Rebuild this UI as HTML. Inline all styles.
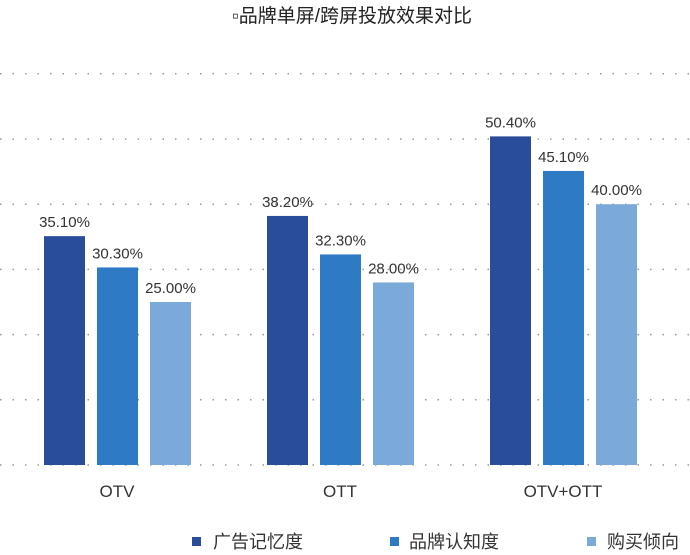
<!DOCTYPE html>
<html><head><meta charset="utf-8"><style>
body{margin:0;background:#fff;}
svg text{font-family:"Liberation Sans","Noto Sans CJK SC",sans-serif;}
</style></head><body>
<svg width="690" height="550" id="c">
<text x="352" y="22" text-anchor="middle" font-size="19" fill="#222">▫品牌单屏/跨屏投放效果对比</text>
<g id="grid"></g><g id="bars"></g><g id="labels"></g>
<g>
<rect x="192" y="537" width="9" height="9" fill="#2a4d9b"/>
<text x="213" y="548" font-size="18" fill="#333">广告记忆度</text>
<rect x="390" y="537" width="9" height="9" fill="#2f7ac4"/>
<text x="409" y="548" font-size="18" fill="#333">品牌认知度</text>
<rect x="587" y="537" width="9" height="9" fill="#7ba9d9"/>
<text x="607" y="548" font-size="18" fill="#333">购买倾向</text>
</g>
</svg>
<script>
const categories=["OTV","OTT","OTV+OTT"];
const recall=[35.1,38.2,50.4];
const awareness=[30.3,32.3,45.1];
const purchase=[25.0,28.0,40.0];
const gridTicks=[0,10,20,30,40,50,60];
const ns="http://www.w3.org/2000/svg";
const y=v=>465-v*6.52;
const gx=i=>117+i*223;
function mk(t,a,p){const e=document.createElementNS(ns,t);for(const k in a)e.setAttribute(k,a[k]);p.appendChild(e);return e;}
const G=document.getElementById('grid'),B=document.getElementById('bars'),L=document.getElementById('labels');
gridTicks.forEach(t=>{const l=mk('line',{x1:0,x2:690,y1:y(t),y2:y(t),stroke:'#999','stroke-width':1.5,'stroke-dasharray':'1.5,11'},G);

});
const series=[[recall,'#2a4d9b','recall'],[awareness,'#2f7ac4','awareness'],[purchase,'#7ba9d9','purchase']];
categories.forEach((c,i)=>{
 series.forEach((s,j)=>{const v=s[0][i];const x=gx(i)-73+j*53;
  const r=mk('rect',{x:x,y:y(v),width:41,height:465-y(v),fill:s[1]},B);
  
  
  const t=mk('text',{x:x+20.5,y:y(v)-9,'text-anchor':'middle','font-size':15,fill:'#333'},L);
  t.textContent=v.toFixed(2)+'%';
  
  });
 const t=mk('text',{x:gx(i),y:497,'text-anchor':'middle','font-size':17,fill:'#333'},L);
 t.textContent=c;
 
 
});
</script>
</body></html>
